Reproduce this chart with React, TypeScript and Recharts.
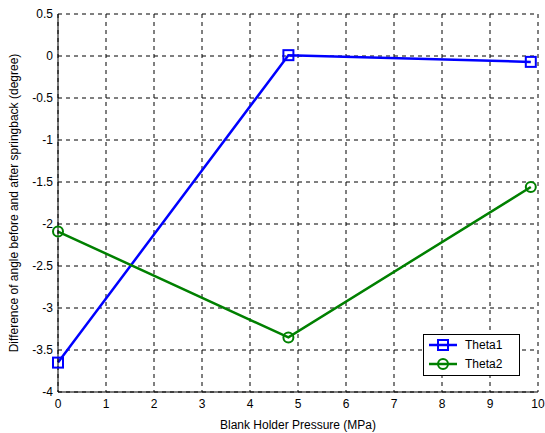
import { LineChart, Line, XAxis, YAxis, CartesianGrid } from 'recharts';

const pressure = [0, 4.8, 9.85];
const theta1 = [-3.65, 0.01, -0.07];
const theta2 = [-2.09, -3.35, -1.56];
const xTicks = [0, 1, 2, 3, 4, 5, 6, 7, 8, 9, 10];
const yTicks = [-4, -3.5, -3, -2.5, -2, -1.5, -1, -0.5, 0, 0.5];

const data = pressure.map((p, i) => ({ p, theta1: theta1[i], theta2: theta2[i] }));

const FONT = "Arial, 'Liberation Sans', sans-serif";
const BLUE = '#0000ff';
const GREEN = '#008000';

function SquareDot(props: any) {
  const { cx, cy, index } = props;
  return (
    <rect key={`sq-${index}`} x={cx - 5} y={cy - 5} width={10} height={10} fill="none" stroke={BLUE} strokeWidth={2} />
  );
}

function CircleDot(props: any) {
  const { cx, cy, index } = props;
  return <circle key={`ci-${index}`} cx={cx} cy={cy} r={5} fill="none" stroke={GREEN} strokeWidth={2} />;
}

// legend box drawn over the plot, bottom-right corner
function LegendBox() {
  const rows = [
    { name: 'Theta1', color: BLUE, shape: 'square' },
    { name: 'Theta2', color: GREEN, shape: 'circle' },
  ];
  return (
    <svg width={97} height={42} style={{ display: 'block' }}>
      <rect x={0.5} y={0.5} width={96} height={41} fill="#fff" stroke="#000" />
      {rows.map((r, i) => {
        const y = 11 + i * 19;
        return (
          <g key={r.name}>
            <line x1={6} x2={34} y1={y} y2={y} stroke={r.color} strokeWidth={2.5} />
            {r.shape === 'square' ? (
              <rect x={15} y={y - 5} width={10} height={10} fill="none" stroke={r.color} strokeWidth={2} />
            ) : (
              <circle cx={20} cy={y} r={5} fill="none" stroke={r.color} strokeWidth={2} />
            )}
            <text x={42} y={y + 4} fontSize={12} fontFamily={FONT} fill="#000">
              {r.name}
            </text>
          </g>
        );
      })}
    </svg>
  );
}

export default function App() {
  return (
    <div style={{ position: 'fixed', left: 0, top: 0, width: 545, height: 433, background: '#fff' }}>
      <LineChart width={545} height={433} data={data} margin={{ top: 14, right: 7, bottom: 0, left: 0 }}>
        <CartesianGrid stroke="#000" strokeDasharray="4 4" strokeWidth={1} />
        <XAxis
          dataKey="p"
          type="number"
          domain={[0, 10]}
          ticks={xTicks}
          height={41}
          tickLine={false}
          tickSize={0}
          tickMargin={7}
          axisLine={{ stroke: '#000' }}
          tick={{ fontSize: 12, fontFamily: FONT, fill: '#000' }}
          label={{ value: 'Blank Holder Pressure (MPa)', position: 'insideBottom', offset: 4, fontSize: 12, fontFamily: FONT, fill: '#000' }}
        />
        <XAxis xAxisId="top" orientation="top" type="number" domain={[0, 10]} height={0} tick={false} tickLine={false} axisLine={{ stroke: '#000' }} />
        <YAxis
          type="number"
          domain={[-4, 0.5]}
          ticks={yTicks}
          width={58}
          tickLine={false}
          tickSize={0}
          tickMargin={5}
          axisLine={{ stroke: '#000' }}
          tick={{ fontSize: 12, fontFamily: FONT, fill: '#000' }}
          label={{
            value: 'Difference of angle before and after springback (degree)',
            angle: -90,
            position: 'insideLeft',
            offset: 0,
            dx: 14,
            style: { textAnchor: 'middle' },
            fontSize: 12,
            fontFamily: FONT,
            fill: '#000',
          }}
        />
        <YAxis yAxisId="right" orientation="right" type="number" domain={[-4, 0.5]} width={0} tick={false} tickLine={false} axisLine={{ stroke: '#000' }} />
        <Line
          dataKey="theta1"
          name="Theta1"
          stroke={BLUE}
          strokeWidth={2.5}
          dot={SquareDot}
          isAnimationActive={false}
        />
        <Line
          dataKey="theta2"
          name="Theta2"
          stroke={GREEN}
          strokeWidth={2.5}
          dot={CircleDot}
          isAnimationActive={false}
        />
      </LineChart>
      <div style={{ position: 'absolute', left: 423, top: 334 }}>
        <LegendBox />
      </div>
    </div>
  );
}
